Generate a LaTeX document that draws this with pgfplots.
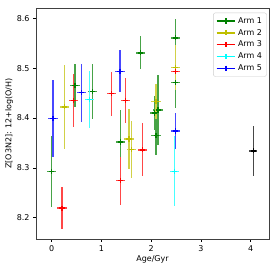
\documentclass[border=0pt]{standalone}
\usepackage{fontspec}
\setmainfont{DejaVu Sans}
\usepackage{pgfplots}
\pgfplotsset{compat=1.18}
\definecolor{mg}{rgb}{0,0.5,0}
\definecolor{my}{rgb}{0.75,0.75,0}
\definecolor{mr}{rgb}{1,0,0}
\definecolor{mc}{rgb}{0,1,1}
\definecolor{mb}{rgb}{0,0,1}
\pgfplotsset{eb/.style={only marks, mark=+, mark size=2.6bp, line width=1.4bp, color=#1, mark options={draw=#1, line width=1.4bp, solid}, error bars/.cd, x dir=both, x explicit, y dir=both, y explicit, error bar style={draw=#1!72!white, line width=1.4bp}, error mark=none}}
\begin{document}
\begin{tikzpicture}
\begin{axis}[
  scale only axis, width=233bp, height=231bp,
  xmin=-0.316, xmax=4.37, ymin=8.157, ymax=8.621,
  xtick={0,1,2,3,4}, ytick={8.2,8.3,8.4,8.5,8.6},
  yticklabel style={/pgf/number format/fixed,/pgf/number format/precision=1,/pgf/number format/fixed zerofill},
  /pgf/number format/assume math mode=true,
  tick align=outside, tick pos=left, major tick length=3bp,
  every tick/.style={black, line width=0.6pt},
  axis line style={line width=0.7pt, black!75},
  font=\fontsize{8}{9}\selectfont,
  xlabel={Age/Gyr}, ylabel={Z[O3N2]: 12+log(O/H)},
  xlabel style={yshift=3bp}, ylabel style={yshift=-3bp},
  legend style={at={(0.99,0.98)}, anchor=north east, draw=black!20, rounded corners=2pt, font=\fontsize{8}{9}\selectfont, row sep=0.5bp, inner sep=2.5bp},
  legend cell align=left,
  legend image code/.code={\draw[mark repeat=2,mark phase=2,#1] plot coordinates {(0cm,0cm) (0.33cm,0cm) (0.66cm,0cm)};},
]
\addlegendimage{mg, mark=+, line width=1.4bp, mark size=2.6bp}\addlegendentry{Arm 1}
\addlegendimage{my, mark=+, line width=1.4bp, mark size=2.6bp}\addlegendentry{Arm 2}
\addlegendimage{mr, mark=+, line width=1.4bp, mark size=2.6bp}\addlegendentry{Arm 3}
\addlegendimage{mc, mark=+, line width=1.4bp, mark size=2.6bp}\addlegendentry{Arm 4}
\addlegendimage{mb, mark=+, line width=1.4bp, mark size=2.6bp}\addlegendentry{Arm 5}
\addplot[forget plot, eb=mg] table[x=x,y=y,x error=ex,y error=ey] {
x y ex ey
0.0 8.293 0.095 0.071
0.469 8.465 0.095 0.043
0.817 8.453 0.095 0.055
1.388 8.352 0.095 0.065
1.783 8.531 0.095 0.033
2.07 8.410 0.095 0.035
2.14 8.416 0.095 0.07
2.10 8.365 0.095 0.04
2.495 8.561 0.095 0.038
2.495 8.471 0.095 0.05
};
\addplot[forget plot, eb=my] table[x=x,y=y,x error=ex,y error=ey] {
x y ex ey
0.26 8.4225 0.095 0.084
1.555 8.358 0.095 0.06
1.61 8.337 0.095 0.058
2.10 8.433 0.095 0.035
2.495 8.502 0.095 0.045
};
\addplot[forget plot, eb=mr] table[x=x,y=y,x error=ex,y error=ey] {
x y ex ey
0.207 8.219 0.095 0.042
0.44 8.435 0.095 0.053
1.2 8.449 0.095 0.044
1.388 8.274 0.095 0.048
1.481 8.435 0.095 0.045
1.83 8.336 0.095 0.053
2.495 8.494 0.095 0.005
};
\addplot[forget plot, eb=mc] table[x=x,y=y,x error=ex,y error=ey] {
x y ex ey
0.757 8.437 0.095 0.058
2.467 8.293 0.095 0.07
};
\addplot[forget plot, eb=mb] table[x=x,y=y,x error=ex,y error=ey] {
x y ex ey
0.026 8.399 0.095 0.077
0.6 8.451 0.095 0.058
1.374 8.494 0.095 0.042
2.495 8.374 0.095 0.037
};
\addplot[forget plot, eb=black] table[x=x,y=y,x error=ex,y error=ey] {
x y ex ey
4.056 8.334 0.08 0.05
};
\end{axis}
\path ([shift={(-36bp,-32bp)}]current axis.south west) rectangle ([shift={(9bp,8bp)}]current axis.north east);
\end{tikzpicture}
\end{document}
